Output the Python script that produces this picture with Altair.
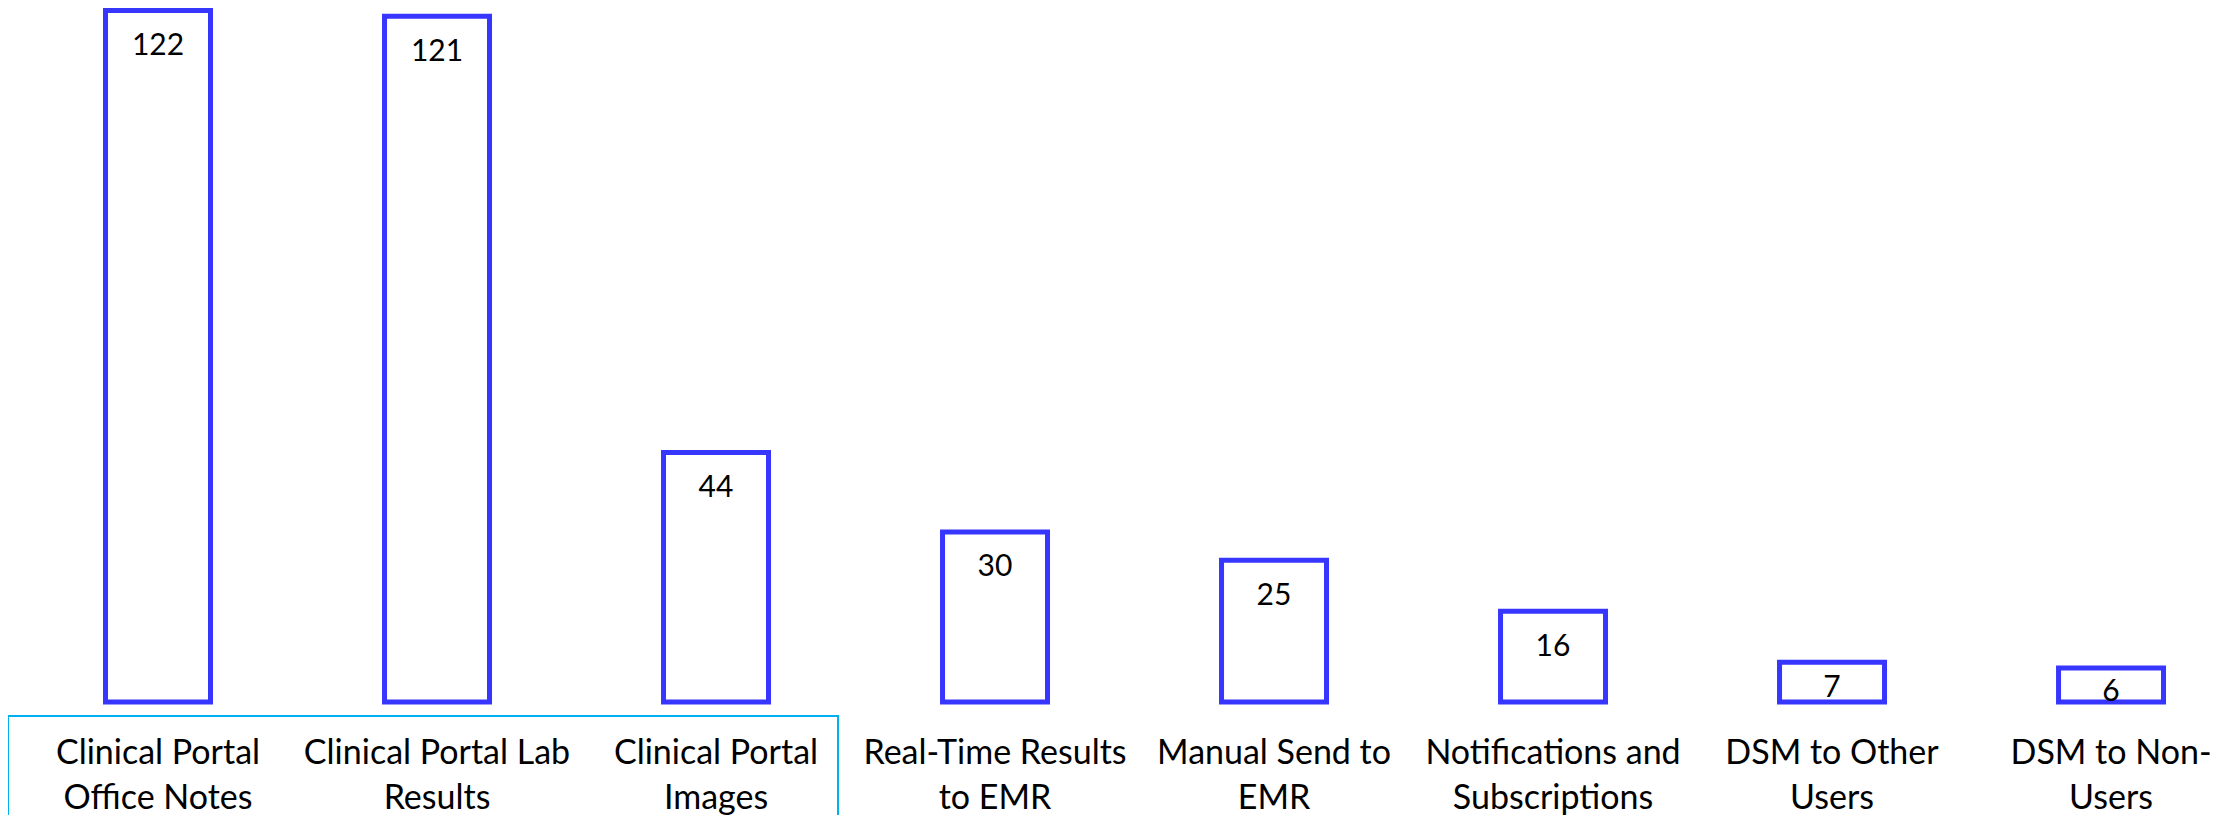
import altair as alt
import pandas as pd

categories = [
    "Clinical Portal\nOffice Notes",
    "Clinical Portal Lab\nResults",
    "Clinical Portal\nImages",
    "Real-Time Results\nto EMR",
    "Manual Send to\nEMR",
    "Notifications and\nSubscriptions",
    "DSM to Other\nUsers",
    "DSM to Non-\nUsers",
]
values = [122, 121, 44, 30, 25, 16, 7, 6]

df = pd.DataFrame({"category": categories, "value": values})

W = 2220
H = 691.5
FONT = "Lato"
BAR_COLOR = "#3636FF"

xscale = alt.Scale(paddingInner=0.6237, paddingOuter=0.2903, align=0.602)
yscale = alt.Scale(domain=[0, 122], nice=False, zero=True)

x = alt.X(
    "category:N",
    sort=categories,
    scale=xscale,
    axis=alt.Axis(
        title=None,
        domain=False,
        ticks=False,
        tickSize=0,
        grid=False,
        labelAngle=0,
        labelPadding=34,
        labelFont=FONT,
        labelFontSize=34,
        labelColor="black",
        labelLineHeight=45,
        labelExpr="split(datum.label, '\\n')",
        labelLimit=0,
        labelOverlap=False,
    ),
)

bars = alt.Chart(df).mark_bar(
    fill="white", stroke=BAR_COLOR, strokeWidth=5
).encode(
    x=x,
    y=alt.Y("value:Q", scale=yscale, axis=None),
)

labels = alt.Chart(df).transform_calculate(
    label_pos="datum.value - min(3.6, datum.value * 0.26)"
).mark_text(
    baseline="top", align="center", font=FONT, fontSize=30, color="black"
).encode(
    x=alt.X("category:N", sort=categories, scale=xscale),
    y=alt.Y("label_pos:Q", scale=yscale, axis=None),
    text=alt.Text("value:Q"),
)

box = alt.Chart(pd.DataFrame({"a": [0]})).mark_rect(
    fill=None, stroke="#00B0F0", strokeWidth=2
).encode(
    x=alt.value(0),
    x2=alt.value(830),
    y=alt.value(H + 14),
    y2=alt.value(H + 160),
)

chart = alt.layer(bars, labels, box).properties(
    width=W,
    height=H,
    autosize=alt.AutoSizeParams(type="none"),
    padding={"left": 0, "top": 2.5, "right": 0, "bottom": 120},
).configure(font=FONT).configure_view(stroke=None)

chart.save("out.html", embed_options={"renderer": "svg", "actions": False})
